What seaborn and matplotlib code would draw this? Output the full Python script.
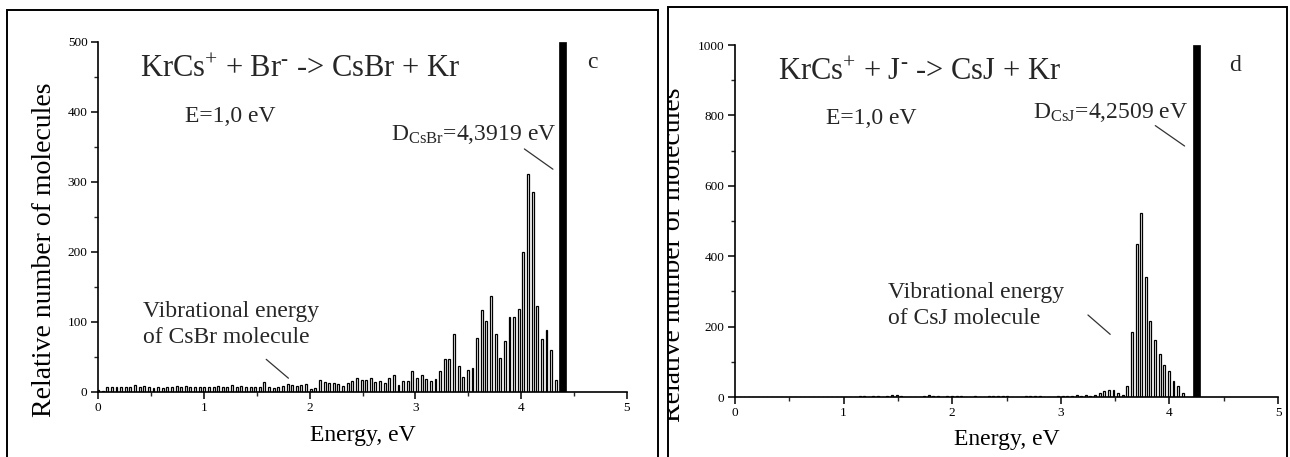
import numpy as np
import pandas as pd
import matplotlib
matplotlib.use("Agg")
import matplotlib.pyplot as plt
import seaborn as sns
from matplotlib.patches import Rectangle
from matplotlib.ticker import MultipleLocator

# ---------------- data ----------------
# panel c : KrCs+ + Br- -> CsBr + Kr
csbr_bin_width = 0.0437          # eV, spacing of the vibrational-energy histogram
csbr_counts = [2, 1, 6, 6, 6, 7, 6, 7, 9, 6,
               8, 7, 5, 7, 5, 6, 6, 8, 7, 8,
               6, 6, 7, 6, 6, 7, 8, 7, 6, 9,
               6, 8, 7, 6, 7, 6, 13, 7, 5, 7,
               8, 11, 10, 8, 9, 11, 4, 5, 17, 13,
               12, 12, 11, 8, 12, 15, 19, 17, 17, 19,
               14, 15, 12, 20, 24, 9, 15, 15, 29, 19,
               24, 18, 15, 18, 29, 47, 46, 82, 37, 21,
               31, 34, 77, 117, 101, 136, 82, 48, 72, 106,
               107, 118, 200, 311, 286, 123, 75, 88, 59, 17]
csbr_D = 4.3919
csbr_D_height = 500

# panel d : KrCs+ + J- -> CsJ + Kr
csj_bin_width = 0.0425
csj_counts = [0, 0, 0, 0, 0, 0, 0, 0, 0, 0,
              0, 0, 0, 0, 0, 0, 0, 0, 0, 0,
              0, 0, 0, 0, 1, 1, 1, 2, 3, 1,
              2, 2, 1, 2, 6, 5, 2, 1, 1, 1,
              1, 2, 5, 2, 3, 1, 2, 4, 2, 2,
              1, 1, 3, 1, 1, 3, 2, 3, 3, 2,
              1, 1, 1, 3, 4, 3, 2, 1, 1, 1,
              2, 2, 3, 2, 5, 4, 5, 4, 6, 11,
              16, 19, 19, 11, 7, 30, 184, 434, 522, 340,
              217, 162, 122, 92, 75, 46, 30, 12, 0, 0]
csj_D = 4.2509
csj_D_height = 1000

x_ticks = [0, 1, 2, 3, 4, 5]

# ---------------- style ----------------
sns.set_theme(style="ticks")
plt.rcParams["font.family"] = ["Liberation Serif", "DejaVu Serif"]
plt.rcParams["mathtext.fontset"] = "custom"
plt.rcParams["mathtext.rm"] = "Liberation Serif"
plt.rcParams["mathtext.it"] = "Liberation Serif:italic"
plt.rcParams["axes.linewidth"] = 1.2

W, H = 1290, 457
fig = plt.figure(figsize=(W / 100, H / 100), dpi=100)


def px_axes(x0, x1, ybot, ytop):
    return fig.add_axes([x0 / W, 1 - ybot / H, (x1 - x0) / W, (ybot - ytop) / H])


def draw_panel(ax, bin_width, counts, D, D_height, ymax, ymajor, yminor):
    energy = np.arange(len(counts)) * bin_width
    df = pd.DataFrame({"energy": energy, "count": counts})
    sns.barplot(data=df, x="energy", y="count", native_scale=True, width=0.42,
                color="white", edgecolor="black", linewidth=0.9,
                errorbar=None, ax=ax)
    dfD = pd.DataFrame({"energy": [D], "count": [D_height]})
    sns.barplot(data=dfD, x="energy", y="count", native_scale=True, width=0.065,
                color="black", edgecolor="black", linewidth=0.5,
                errorbar=None, ax=ax)
    ax.set_xlim(0, 5)
    ax.set_ylim(0, ymax)
    ax.set_xticks(x_ticks)
    ax.set_xticklabels([str(t) for t in x_ticks])
    ax.xaxis.set_minor_locator(MultipleLocator(0.5))
    ax.yaxis.set_major_locator(MultipleLocator(ymajor))
    ax.yaxis.set_minor_locator(MultipleLocator(yminor))
    ax.tick_params(which="major", direction="out", length=5, width=1.1,
                   labelsize=9.5, pad=2.5, colors="black")
    ax.tick_params(which="minor", direction="out", length=3, width=1.0)
    sns.despine(ax=ax)
    for s in ("left", "bottom"):
        ax.spines[s].set_color("black")
    ax.set_facecolor("white")
    ax.set_xlabel("Energy, eV", fontsize=17, color="black")
    ax.xaxis.label.set_va("center")
    ax.set_ylabel("Relative number of molecules", fontsize=20, color="black")
    ax.yaxis.label.set_va("center")


# ---- left panel (c)
axL = px_axes(98, 627, 391.5, 42)
draw_panel(axL, csbr_bin_width, csbr_counts, csbr_D, csbr_D_height, 500, 100, 50)
axL.xaxis.set_label_coords(0.5, -(435 - 391.5) / (391.5 - 42))
axL.yaxis.set_label_coords(-(98 - 45) / (627 - 98), 0.5 - (250 - 216.7) / 349.5)
axL.text(0.40, 460, r"KrCs$^{+}$ + Br$^{\text{-}}$ -> CsBr + Kr", fontsize=22, va="center", ha="left")
axL.text(0.82, 394, "E=1,0 eV", fontsize=17, va="center", ha="left")
axL.text(2.77, 368, r"D$_{\mathrm{CsBr}}$=4,3919 eV", fontsize=17, va="center", ha="left")
axL.plot([4.03, 4.30], [347, 318], color="#333333", lw=0.9)
axL.text(4.62, 470, "c", fontsize=17, va="center", ha="left")
axL.text(0.43, 114, "Vibrational energy", fontsize=17, va="center", ha="left")
axL.text(0.43, 77, "of CsBr molecule", fontsize=17, va="center", ha="left")
axL.plot([1.59, 1.80], [46, 19], color="#333333", lw=0.9)

# ---- right panel (d)
axR = px_axes(735, 1278, 397, 45)
draw_panel(axR, csj_bin_width, csj_counts, csj_D, csj_D_height, 1000, 200, 100)
axR.xaxis.set_label_coords(0.5, -(440 - 397) / (397 - 45))
axR.yaxis.set_label_coords(-(735 - 673) / (1278 - 735), 0.5 - (255 - 221) / 352)
axR.text(0.40, 922, r"KrCs$^{+}$ + J$^{\text{-}}$ -> CsJ + Kr", fontsize=22, va="center", ha="left")
axR.text(0.84, 790, "E=1,0 eV", fontsize=17, va="center", ha="left")
axR.text(2.74, 809, r"D$_{\mathrm{CsJ}}$=4,2509 eV", fontsize=17, va="center", ha="left")
axR.plot([3.87, 4.14], [771, 713], color="#333333", lw=0.9)
axR.text(4.55, 941, "d", fontsize=17, va="center", ha="left")
axR.text(1.41, 296, "Vibrational energy", fontsize=17, va="center", ha="left")
axR.text(1.41, 224, "of CsJ molecule", fontsize=17, va="center", ha="left")
axR.plot([3.25, 3.455], [233, 178], color="#333333", lw=0.9)

# clip the right y-label at the panel frame, as in the scan
clip = Rectangle((668 / W, 0), 1, 1, transform=fig.transFigure, facecolor="none", edgecolor="none")
fig.add_artist(clip)
axR.yaxis.label.set_clip_path(clip)
axR.yaxis.label.set_clip_on(True)

# ---- panel frames
fig.add_artist(Rectangle((7 / W, -0.1), (658 - 7) / W, 1.1 - 10 / H,
                         transform=fig.transFigure, fill=False, edgecolor="black", lw=1.4))
fig.add_artist(Rectangle((668 / W, -0.1), (1287 - 668) / W, 1.1 - 7 / H,
                         transform=fig.transFigure, fill=False, edgecolor="black", lw=1.4))

fig.savefig("out.png", dpi=100, facecolor="white")
